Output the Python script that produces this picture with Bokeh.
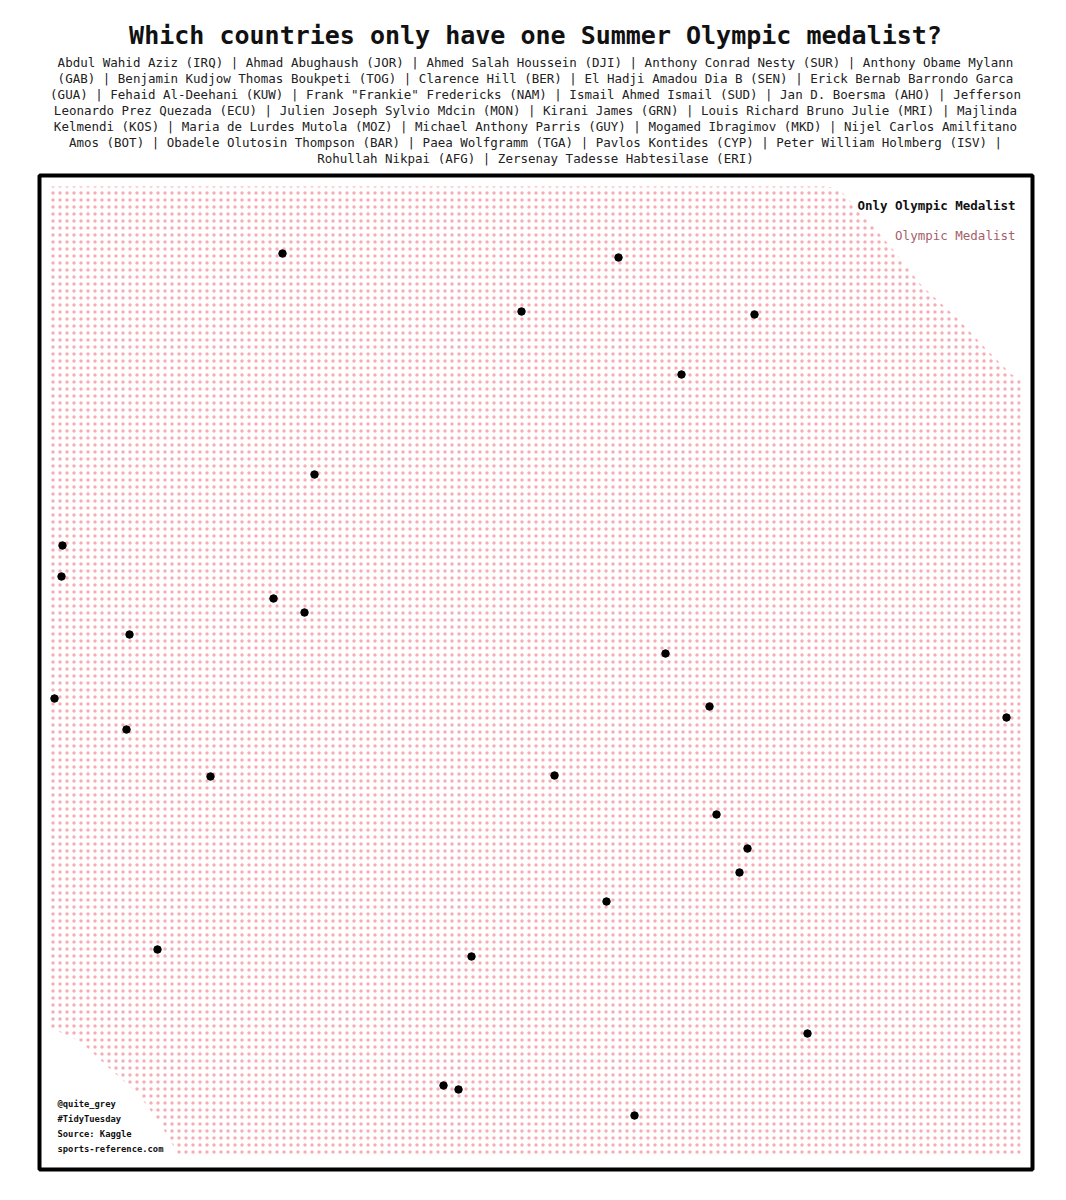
import textwrap
from bokeh.plotting import figure
from bokeh.models import Range1d
from bokeh.core.properties import value
from bokeh.embed import file_html
from bokeh.resources import INLINE

# ---------------- data ----------------
title = "Which countries only have one Summer Olympic medalist?"

single_medalists = [
    "Abdul Wahid Aziz (IRQ)", "Ahmad Abughaush (JOR)", "Ahmed Salah Houssein (DJI)",
    "Anthony Conrad Nesty (SUR)", "Anthony Obame Mylann (GAB)",
    "Benjamin Kudjow Thomas Boukpeti (TOG)", "Clarence Hill (BER)",
    "El Hadji Amadou Dia B (SEN)", "Erick Bernab Barrondo Garca (GUA)",
    "Fehaid Al-Deehani (KUW)", 'Frank "Frankie" Fredericks (NAM)',
    "Ismail Ahmed Ismail (SUD)", "Jan D. Boersma (AHO)",
    "Jefferson Leonardo Prez Quezada (ECU)", "Julien Joseph Sylvio Mdcin (MON)",
    "Kirani James (GRN)", "Louis Richard Bruno Julie (MRI)", "Majlinda Kelmendi (KOS)",
    "Maria de Lurdes Mutola (MOZ)", "Michael Anthony Parris (GUY)",
    "Mogamed Ibragimov (MKD)", "Nijel Carlos Amilfitano Amos (BOT)",
    "Obadele Olutosin Thompson (BAR)", "Paea Wolfgramm (TGA)", "Pavlos Kontides (CYP)",
    "Peter William Holmberg (ISV)", "Rohullah Nikpai (AFG)",
    "Zersenay Tadesse Habtesilase (ERI)",
]

# layout positions of the single medalists in the packed field
single_x = [282, 618, 521, 754, 681, 314, 62, 61, 273, 304, 129, 665, 54, 709,
            1006, 126, 210, 554, 716, 747, 739, 606, 157, 471, 807, 443, 458, 634]
single_y = [253, 257, 311, 314, 374, 474, 545, 576, 598, 612, 634, 653, 698, 706,
            717, 729, 776, 775, 814, 848, 872, 901, 949, 956, 1033, 1085, 1089, 1115]

# outline of the field of all other Olympic medalists
field_x = [50, 826, 838, 866, 894, 921, 957, 988, 1011, 1020, 1020,
           179, 159, 138, 108, 80, 58, 50]
field_y = [186, 186, 188, 218, 251, 285, 318, 351, 374, 378, 1156,
           1156, 1122, 1094, 1067, 1041, 1031, 1028]

legend_labels = ["Only Olympic Medalist", "Olympic Medalist"]
credits = ["@quite_grey", "#TidyTuesday", "Source: Kaggle", "sports-reference.com"]

# ---------------- styles ----------------
FONT = value("DejaVu Sans Mono")
PINK = "#f7adb4"
MUTED = "#a4606a"

W, H = 1066, 1200
p = figure(width=W, height=H, x_range=Range1d(0, W), y_range=Range1d(H, 0),
           output_backend="svg", toolbar_location=None, min_border=0,
           x_axis_location=None, y_axis_location=None)
p.grid.visible = False
p.outline_line_color = None
p.background_fill_color = "white"
p.border_fill_color = "white"

# field of medalists (dotted texture)
p.patch(field_x, field_y, fill_color=None, line_color=None,
        hatch_pattern="dot", hatch_color=PINK, hatch_scale=7, hatch_weight=1)

# single medalists
p.scatter(single_x, single_y, size=7.5, color="black")

# frame border
p.quad(left=[39], right=[1032], top=[175], bottom=[1169],
       fill_color=None, line_color="black", line_width=4)

# title
p.text(x=[535], y=[35], text=[title], text_font=FONT, text_font_size="25px",
       text_font_style="bold", text_align="center", text_baseline="middle",
       text_color="#111111")

# subtitle: wrapped list of names
sub = " | ".join(single_medalists)
lines = textwrap.wrap(sub, width=130, break_on_hyphens=False, break_long_words=False)
p.text(x=[535] * len(lines), y=[62 + 16 * i for i in range(len(lines))], text=lines,
       text_font=FONT, text_font_size="12.5px", text_align="center",
       text_baseline="middle", text_color="#222222")

# legend
p.text(x=[1015], y=[205], text=[legend_labels[0]], text_font=FONT,
       text_font_size="12.5px", text_font_style="bold", text_align="right",
       text_baseline="middle", text_color="#111111")
p.text(x=[1015], y=[235], text=[legend_labels[1]], text_font=FONT,
       text_font_size="12.5px", text_align="right",
       text_baseline="middle", text_color=MUTED)

# credits
p.text(x=[57] * len(credits), y=[1103 + 15 * i for i in range(len(credits))],
       text=credits, text_font=FONT, text_font_size="8.8px", text_font_style="bold",
       text_align="left", text_baseline="middle", text_color="#111111")

open("out.html", "w").write(file_html(p, INLINE))
